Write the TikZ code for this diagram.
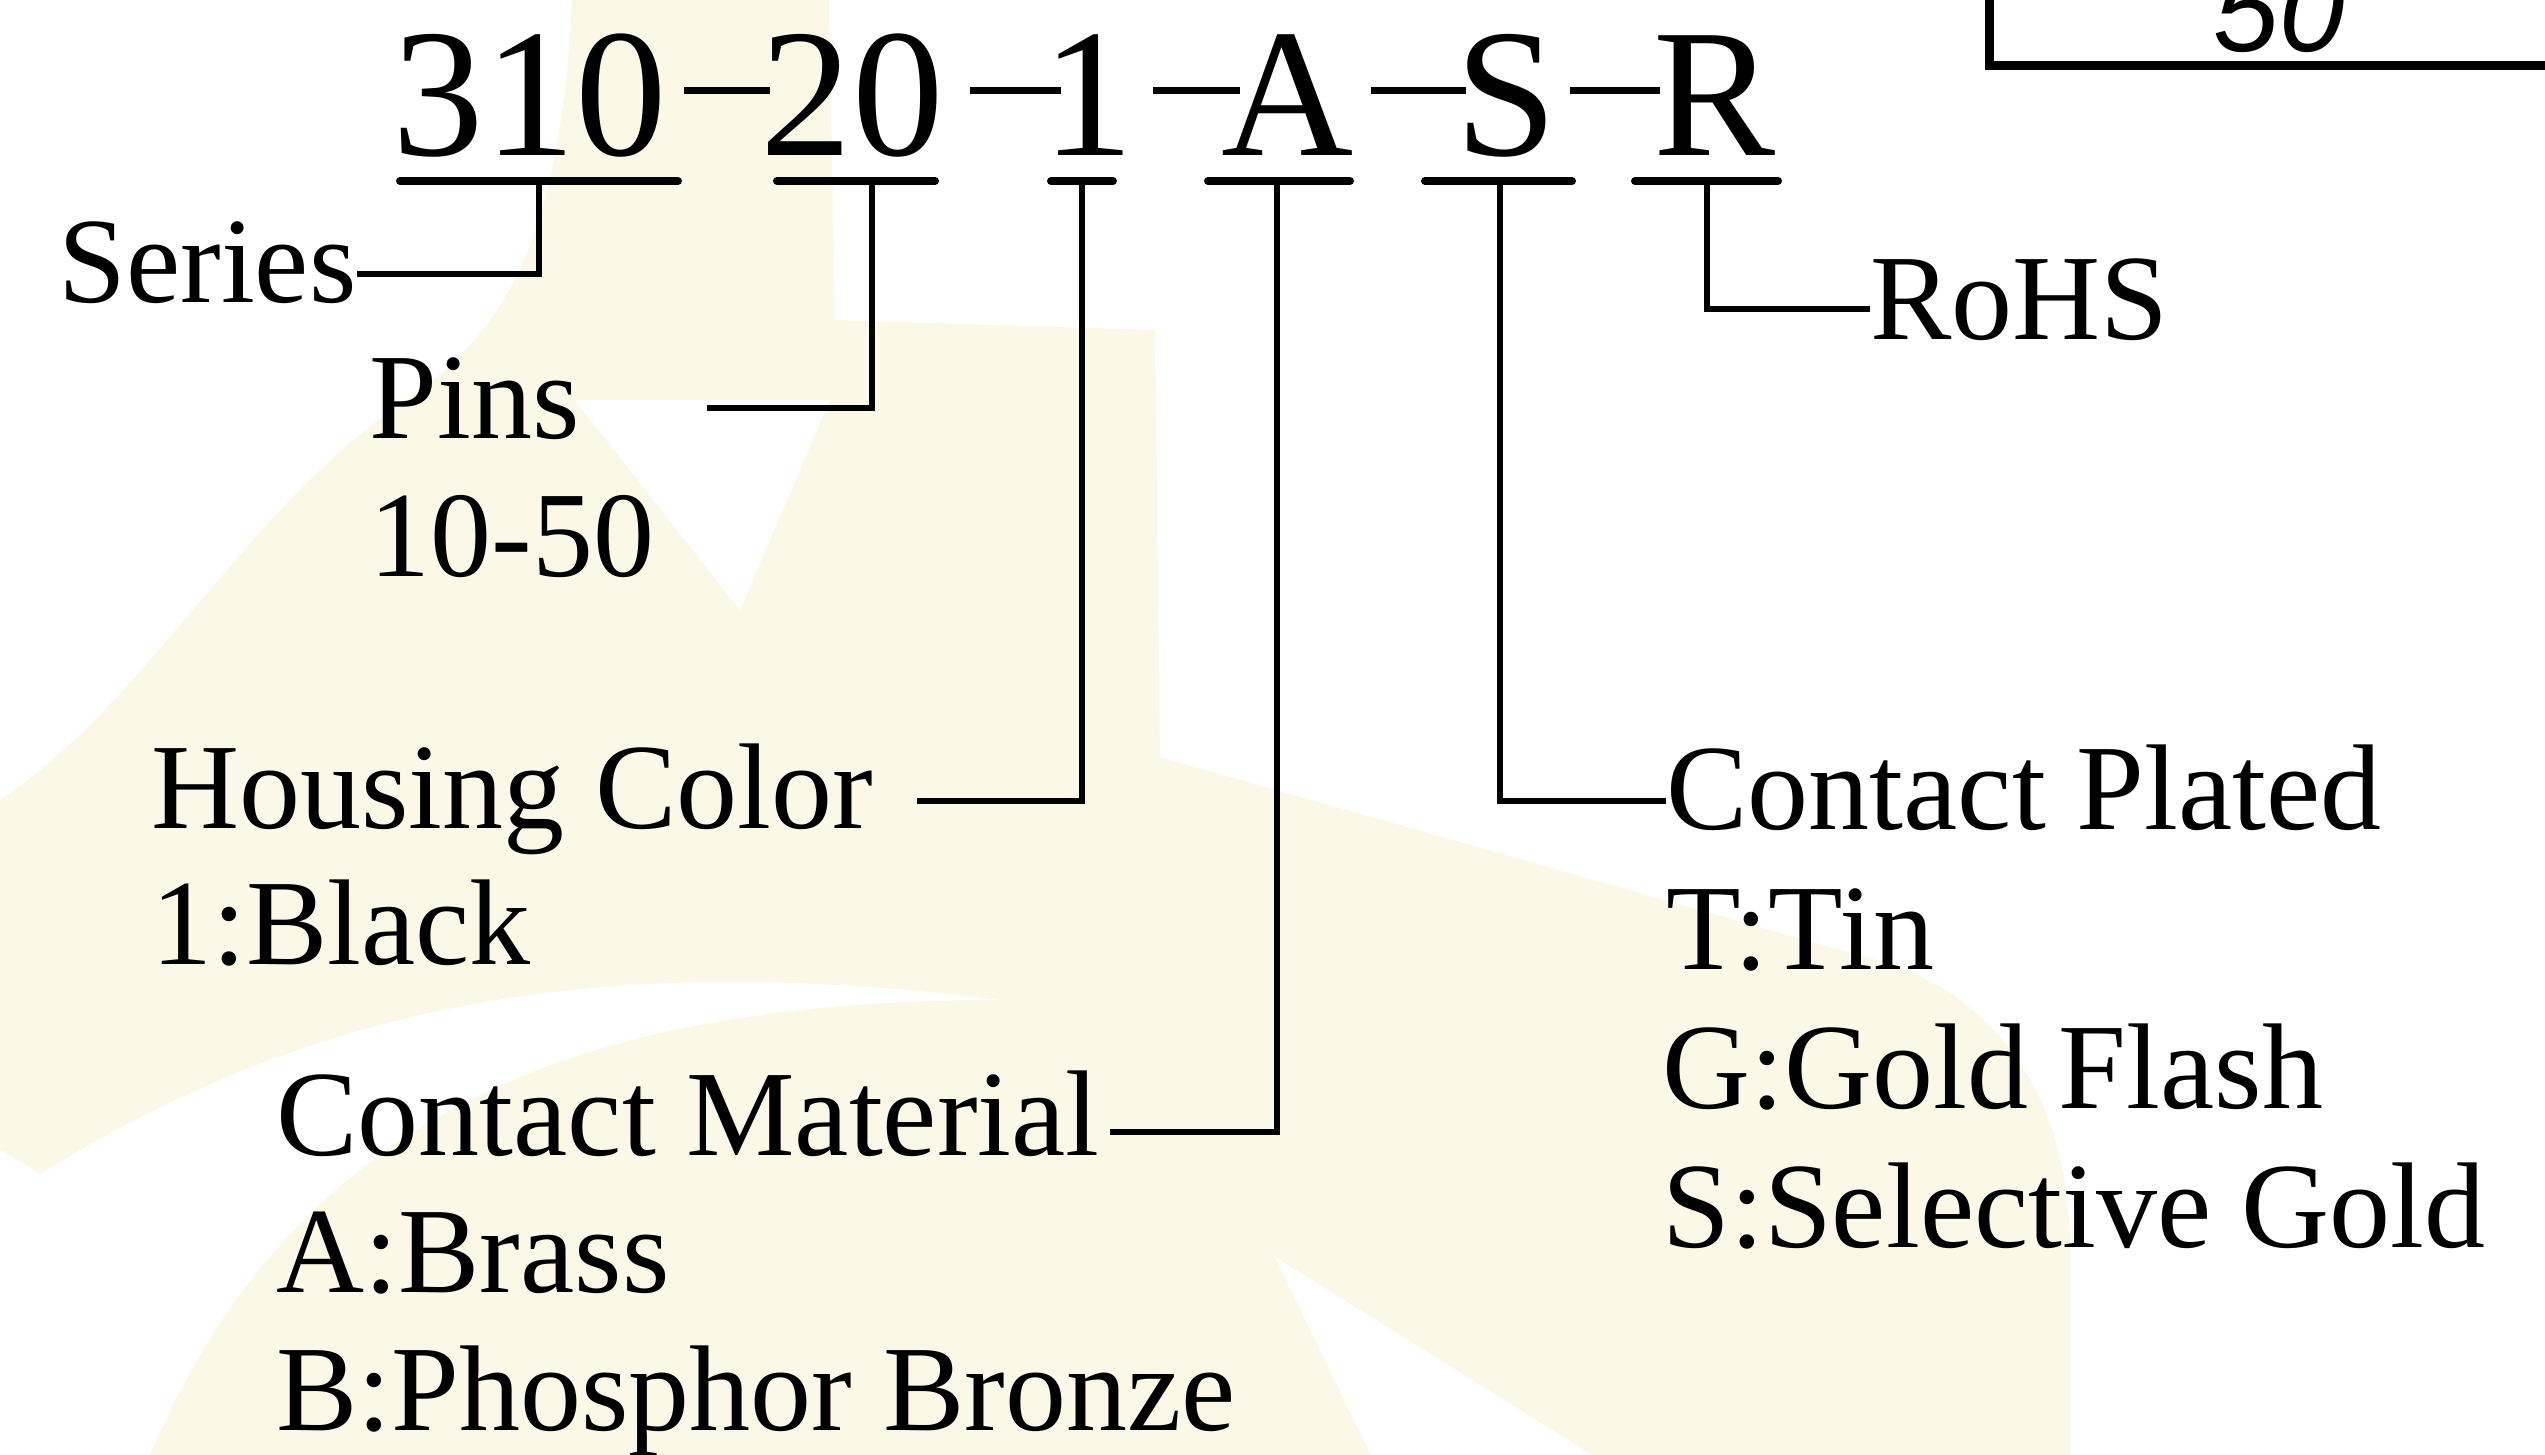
\documentclass[tikz,border=0pt]{standalone}
\usepackage{fontspec}
\setmainfont{Liberation Serif}
\newfontfamily\boxfont{Liberation Sans}
\definecolor{wm}{RGB}{251,248,232}
\begin{document}
\begin{tikzpicture}[x=0.5pt,y=-0.5pt,
  lbl/.style={anchor=base west, inner sep=0pt, font=\fontsize{61pt}{68pt}\selectfont},
  code/.style={anchor=base, inner sep=0pt, font=\fontsize{91.5pt}{100pt}\selectfont},
  uline/.style={line width=4pt, line cap=round},
  dashline/.style={line width=3.5pt},
  conn/.style={line width=3.4pt}]
\useasboundingbox (0,0) rectangle (2545,1455);
\clip (0,0) rectangle (2545,1455);
% watermark
\fill[wm] (572,0) -- (829,0) -- (835,320) -- (1155,330) -- (1160,757) -- (1887,963)
  .. controls (2000,1000) and (2070,1100) .. (2070,1250) -- (2070,1455) -- (150,1455)
  .. controls (150,1300) and (100,1200) .. (0,1150) -- (0,800)
  .. controls (150,700) and (250,500) .. (415,394) .. controls (500,330) and (560,250) .. (572,0) -- cycle;
\fill[white] (575,400) -- (830,400) -- (740,610) -- cycle;
\fill[white] (0,1200) .. controls (300,1000) and (600,950) .. (1000,1000) .. controls (600,1000) and (300,1100) .. (150,1455) -- (0,1455) -- cycle;
\fill[white] (1275,1257) -- (1371,1455) -- (1592,1455) -- cycle;
% part number
\node[code] (c310) at (530,156) {310};
\node[code] (c20)  at (852,156) {20};
\node[code] (c1)   at (1088,156) {1};
\node[code] (cA)   at (1288,156) {A};
\node[code] (cS)   at (1506,156) {S};
\node[code] (cR)   at (1715,156) {R};
\draw[dashline] (684,91) -- (770,91);
\draw[dashline] (970,91) -- (1061,91);
\draw[dashline] (1153,91) -- (1240,91);
\draw[dashline] (1371,91) -- (1466,91);
\draw[dashline] (1570,91) -- (1660,91);
% underlines
\draw[uline] (400,181) -- (678,181);
\draw[uline] (777,181) -- (935,181);
\draw[uline] (1051,181) -- (1113,181);
\draw[uline] (1208,181) -- (1350,181);
\draw[uline] (1425,181) -- (1572,181);
\draw[uline] (1635,181) -- (1778,181);
\coordinate (d310) at (539,181);
\coordinate (d20) at (872,181);
\coordinate (d1) at (1082,181);
\coordinate (dA) at (1277,181);
\coordinate (dS) at (1500,181);
\coordinate (dR) at (1707,181);
% labels
\node[lbl] (series) at (58,303) {Series};
\node[lbl] (pins) at (369,438) {Pins};
\node[lbl] (pinsr) at (369,576) {10-50};
\node[lbl] (hous) at (151,828) {Housing Color};
\node[lbl] (housb) at (151,964) {1:Black};
\node[lbl] (mat) at (276,1155) {Contact Material};
\node[lbl] (mata) at (276,1292) {A:Brass};
\node[lbl] (matb) at (276,1430) {B:Phosphor Bronze};
\node[lbl] (rohs) at (1870,340) {RoHS};
\node[lbl] (plat) at (1666,829) {Contact Plated};
\node[lbl] (platt) at (1666,969) {T:Tin};
\node[lbl] (platg) at (1662,1108) {G:Gold Flash};
\node[lbl] (plats) at (1662,1247) {S:Selective Gold};
\coordinate (eSeries) at (357,274);
\coordinate (ePins) at (707,408);
\coordinate (eHous) at (917,801);
\coordinate (eMat) at (1110,1132);
\coordinate (ePlat) at (1666,801);
\coordinate (eRohs) at (1870,309);
\draw[conn] (d310) |- (eSeries);
\draw[conn] (d20) |- (ePins);
\draw[conn] (d1) |- (eHous);
\draw[conn] (dA) |- (eMat);
\draw[conn] (dS) |- (ePlat);
\draw[conn] (dR) |- (eRohs);
% top-right box
\node[anchor=base, inner sep=0pt, font=\boxfont\itshape\fontsize{59pt}{64pt}\selectfont] (fifty) at (2279,52) {50};
\coordinate (bxTop) at (1989,0);
\coordinate (bxRight) at (2545,66);
\draw[line width=4.5pt] (bxTop) |- (bxRight);
\end{tikzpicture}
\end{document}
